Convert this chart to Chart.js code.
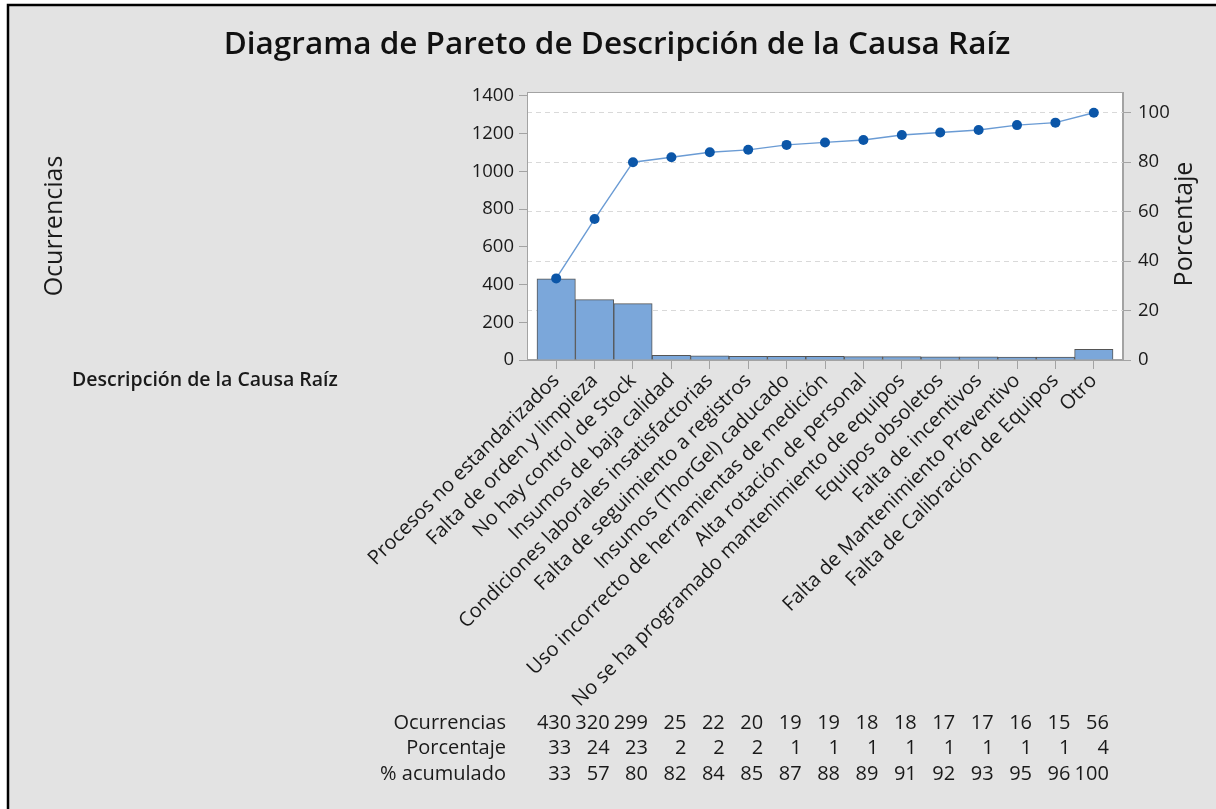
<!DOCTYPE html>
<html>
<head>
<meta charset="utf-8">
<title>Diagrama de Pareto</title>
<script src="https://cdn.jsdelivr.net/npm/chart.js@4.4.1/dist/chart.umd.min.js"></script>
<style>
  html, body { margin: 0; padding: 0; background: #fff; }
  canvas { display: block; }
</style>
</head>
<body>
<canvas id="paretoChart" width="1216" height="809"></canvas>
<script>
// Data
const causes = [
  'Procesos no estandarizados',
  'Falta de orden y limpieza',
  'No hay control de Stock',
  'Insumos de baja calidad',
  'Condiciones laborales insatisfactorias',
  'Falta de seguimiento a registros',
  'Insumos (ThorGel) caducado',
  'Uso incorrecto de herramientas de medición',
  'Alta rotación de personal',
  'No se ha programado mantenimiento de equipos',
  'Equipos obsoletos',
  'Falta de incentivos',
  'Falta de Mantenimiento Preventivo',
  'Falta de Calibración de Equipos',
  'Otro'
];
const occurrences = [430, 320, 299, 25, 22, 20, 19, 19, 18, 18, 17, 17, 16, 15, 56];
const percentages = [33, 24, 23, 2, 2, 2, 1, 1, 1, 1, 1, 1, 1, 1, 4];
const cumulative = [33, 57, 80, 82, 84, 85, 87, 88, 89, 91, 92, 93, 95, 96, 100];
const countTicks = [0, 200, 400, 600, 800, 1000, 1200, 1400];
const pctTicks = [0, 20, 40, 60, 80, 100];
const rowLabels = ['Ocurrencias', 'Porcentaje', '% acumulado'];
const tableRows = [occurrences, percentages, cumulative];

const FONT = "'Open Sans', 'Noto Sans', sans-serif";
const countMax = 1421;
const total = occurrences.reduce((a, b) => a + b, 0);
const pctMax = countMax / total * 100;
const frameColor = '#a3a3a3';
const textColor = '#1a1a1a';

Chart.defaults.font.family = FONT;
Chart.defaults.color = textColor;

// Background, plot frame and extra texts (right title, table, x label)
const decorations = {
  id: 'decorations',
  beforeDraw(chart) {
    const { ctx, chartArea: a } = chart;
    ctx.save();
    ctx.fillStyle = '#ffffff';
    ctx.fillRect(0, 0, chart.width, chart.height);
    ctx.fillStyle = '#e3e3e3';
    ctx.fillRect(8, 5, chart.width, chart.height);
    ctx.strokeStyle = '#000';
    ctx.lineWidth = 2.5;
    ctx.beginPath();
    ctx.moveTo(8, chart.height + 5);
    ctx.lineTo(8, 5);
    ctx.lineTo(chart.width + 5, 5);
    ctx.stroke();
    ctx.fillStyle = '#ffffff';
    ctx.fillRect(a.left, a.top, a.right - a.left, a.bottom - a.top);
    ctx.strokeStyle = frameColor;
    ctx.lineWidth = 1;
    ctx.strokeRect(a.left + 0.5, a.top + 0.5, a.right - a.left - 1, a.bottom - a.top - 1);
    ctx.restore();
  },
  afterDraw(chart) {
    const { ctx } = chart;
    const x = chart.scales.x;
    ctx.save();
    ctx.fillStyle = textColor;

    // right axis title, reading bottom to top
    ctx.font = `25px ${FONT}`;
    ctx.textAlign = 'center';
    ctx.textBaseline = 'middle';
    ctx.translate(1185, 224);
    ctx.rotate(-Math.PI / 2);
    ctx.fillText('Porcentaje', 0, 0);
    ctx.setTransform(1, 0, 0, 1, 0, 0);

    // category axis label
    ctx.font = `600 19.5px ${FONT}`;
    ctx.textAlign = 'left';
    ctx.fillText('Descripción de la Causa Raíz', 72, 380);

    // summary table under the chart
    const rowY = [723, 748, 774];
    ctx.font = `20px ${FONT}`;
    rowLabels.forEach((label, r) => {
      ctx.textAlign = 'right';
      ctx.fillText(label, 506, rowY[r]);
      tableRows[r].forEach((v, i) => {
        ctx.fillText(String(v), x.getPixelForValue(i) + 15, rowY[r]);
      });
    });
    ctx.restore();
  }
};

const ctx = document.getElementById('paretoChart').getContext('2d');
const paretoChart = new Chart(ctx, {
  type: 'bar',
  data: {
    datasets: [
      {
        type: 'line',
        label: '% acumulado',
        data: cumulative.map((v, i) => ({ x: i, y: v })),
        yAxisID: 'y1',
        borderColor: '#6a9bd4',
        borderWidth: 1.4,
        pointRadius: 5,
        pointBackgroundColor: '#0b56a8',
        pointBorderWidth: 0,
        tension: 0,
        order: 0
      },
      {
        type: 'bar',
        label: 'Ocurrencias',
        data: occurrences.map((v, i) => ({ x: i, y: v })),
        yAxisID: 'y',
        backgroundColor: '#7ba7da',
        borderColor: '#555555',
        borderWidth: 1,
        barPercentage: 1,
        categoryPercentage: 1,
        order: 1
      }
    ]
  },
  options: {
    responsive: false,
    animation: false,
    layout: { padding: { left: 18, right: 0, top: 0, bottom: 0 } },
    plugins: {
      legend: { display: false },
      tooltip: { enabled: false },
      title: {
        display: true,
        text: 'Diagrama de Pareto de Descripción de la Causa Raíz',
        color: '#111',
        font: { family: FONT, size: 31.5, weight: '600' },
        padding: { top: 26, bottom: 28.2 }
      }
    },
    scales: {
      x: {
        type: 'linear',
        position: 'bottom',
        min: -0.76,
        max: 14.76,
        offset: false,
        afterFit: s => { s.height = 449; },
        grid: { offset: false, drawOnChartArea: false, tickLength: 9, color: frameColor },
        border: { color: frameColor },
        ticks: {
          stepSize: 1,
          includeBounds: false,
          autoSkip: false,
          minRotation: 45,
          maxRotation: 45,
          padding: 0,
          color: textColor,
          font: { size: 20 },
          callback: v => Number.isInteger(v) ? causes[v] : ''
        }
      },
      y: {
        position: 'left',
        min: 0,
        max: countMax,
        afterFit: s => { s.width = 509; },
        afterBuildTicks: s => { s.ticks = countTicks.map(v => ({ value: v })); },
        grid: { drawOnChartArea: false, tickLength: 8, color: frameColor },
        border: { color: frameColor },
        ticks: { padding: 5, color: textColor, font: { size: 18.5 }, callback: v => String(v) },
        title: {
          display: true,
          text: 'Ocurrencias',
          color: textColor,
          font: { size: 25 },
          padding: { top: 22 }
        }
      },
      y1: {
        position: 'right',
        min: 0,
        max: pctMax,
        afterBuildTicks: s => { s.ticks = pctTicks.map(v => ({ value: v })); },
        afterFit: s => { s.width = 93; },
        grid: {
          drawOnChartArea: true,
          tickLength: 8,
          color: c => c.tick && c.tick.value === 0 ? 'rgba(0,0,0,0)' : '#d9d9d9',
          tickColor: frameColor
        },
        border: { color: frameColor, dash: [5, 4] },
        ticks: { padding: 7, color: textColor, font: { size: 18.5 } }
      }
    }
  },
  plugins: [decorations]
});
</script>
</body>
</html>
